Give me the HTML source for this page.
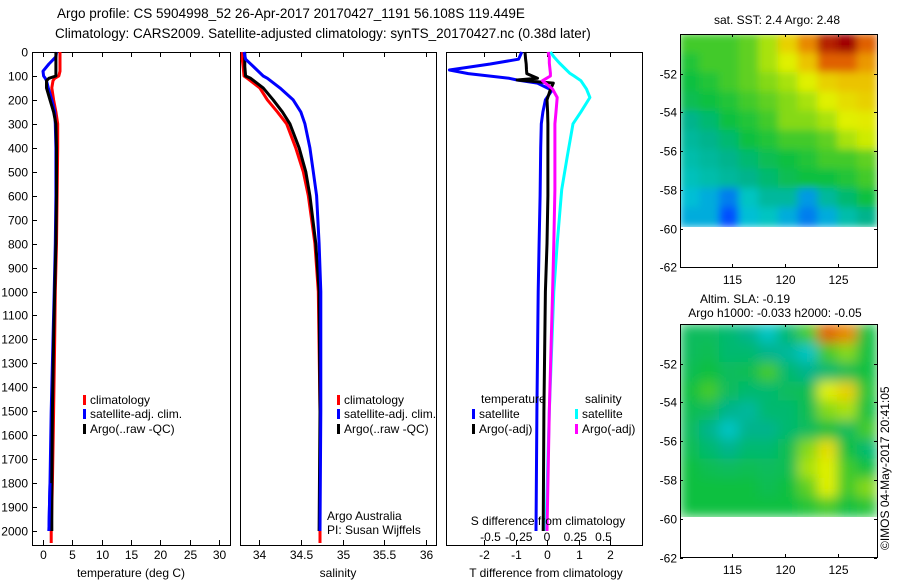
<!DOCTYPE html>
<html><head><meta charset="utf-8"><style>
body{margin:0;background:#fff}
svg{display:block;font-family:"Liberation Sans",sans-serif}
text{font-size:12px;fill:#000}
</style></head><body>
<svg id="c" width="900" height="580" viewBox="0 0 900 580">
<defs>
<filter id="blur1" x="0" y="0" width="1" height="1"><feGaussianBlur stdDeviation="4"/></filter>
<filter id="blur2" x="0" y="0" width="1" height="1"><feGaussianBlur stdDeviation="6"/></filter>
<clipPath id="cm1"><rect x="680" y="34" width="197" height="193"/></clipPath>
<clipPath id="cm2"><rect x="680" y="324" width="197" height="193"/></clipPath>
</defs>
<text x="57" y="18" style="font-size:13.5px">Argo profile: CS 5904998_52 26-Apr-2017 20170427_1191 56.108S 119.449E</text>
<text x="55" y="38" style="font-size:13.5px">Climatology: CARS2009. Satellite-adjusted climatology: synTS_20170427.nc (0.38d later)</text>
<g id="g"></g>
</svg>
<script>
// ---- data ----
const depthLevels = [0,100,200,300,400,500,600,700,800,900,1000,1100,1200,1300,1400,1500,1600,1700,1800,1900,2000];
const tDepths = [0,20,50,80,100,110,120,150,200,250,300,400,600,800,1000,1200,1500,1800,2000,2050];
const tempClim = [2.9,2.9,2.9,2.9,2.7,2.0,1.7,1.5,1.8,2.2,2.5,2.5,2.4,2.3,2.1,2.0,1.8,1.6,1.4,1.4];
const tempArgo = [2.2,2.2,2.2,2.2,2.2,1.0,0.6,0.6,1.2,1.8,2.2,2.3,2.3,2.2,2.0,1.8,1.6,1.5,1.5,null];
const tempSat  = [2.3,2.2,1.0,0.0,0.1,0.4,0.6,0.9,1.5,2.0,2.1,2.2,2.2,2.1,1.9,1.7,1.4,1.2,1.0,null];
const tempTicks = [0,5,10,15,20,25,30];
const sDepths = [0,30,60,100,110,150,200,250,300,400,500,600,800,1000,1500,2000,2050];
const salClim = [33.8,33.8,33.81,33.82,33.86,34.01,34.1,34.22,34.33,34.44,34.53,34.59,34.67,34.71,34.73,34.73,34.73];
const salArgo = [33.83,33.83,33.83,33.84,33.9,34.05,34.17,34.28,34.37,34.48,34.56,34.61,34.68,34.72,34.73,34.72,null];
const salSat  = [33.82,33.84,33.93,34.05,34.1,34.25,34.41,34.5,34.55,34.61,34.65,34.69,34.72,34.74,34.74,34.73,null];
const salTicks = [34,34.5,35,35.5,36];
const tdDepths = [0,30,50,75,90,110,117,130,160,200,250,300,400,600,800,1000,1500,2000];
const tdSat  = [-0.8,-0.9,-1.8,-3.1,-2.5,-1.2,-0.95,-0.3,0.16,-0.05,-0.13,-0.18,-0.2,-0.22,-0.25,-0.28,-0.32,-0.35];
const tdArgo = [-0.7,-0.68,-0.66,-0.65,-0.64,-0.3,-0.95,0.2,0.1,0.0,0.02,0.03,0.03,0.03,0.0,-0.05,-0.1,-0.12];
const sdDepths = [0,20,46,88,100,120,155,190,250,300,435,575,800,1000,1500,2000];
const sdSat  = [0.03,0.06,0.11,0.2,0.24,0.3,0.35,0.38,0.3,0.23,0.18,0.13,0.09,0.06,0.02,-0.01];
const sdArgo = [0.01,0.02,0.02,0.03,0.03,-0.04,0.05,0.09,0.08,0.07,0.07,0.07,0.06,0.05,0.02,0.0];
const tdTicks = [-2,-1,0,1,2];
const sdTicks = [-0.5,-0.25,0,0.25,0.5];
const latTicks = [-52,-54,-56,-58,-60,-62];
const lonTicks = [115,120,125];
const sstGrid = [
[0.55,0.55,0.55,0.58,0.62,0.7,0.8,0.95,1.0,0.85],
[0.52,0.55,0.55,0.58,0.62,0.65,0.72,0.85,0.85,0.78],
[0.5,0.52,0.55,0.58,0.6,0.62,0.65,0.7,0.72,0.72],
[0.48,0.5,0.52,0.55,0.58,0.6,0.62,0.65,0.68,0.7],
[0.42,0.45,0.5,0.52,0.55,0.6,0.6,0.62,0.65,0.66],
[0.4,0.42,0.45,0.5,0.52,0.55,0.55,0.58,0.62,0.64],
[0.38,0.4,0.42,0.45,0.48,0.5,0.52,0.55,0.55,0.58],
[0.36,0.38,0.4,0.42,0.45,0.48,0.5,0.5,0.52,0.55],
[0.32,0.3,0.25,0.35,0.4,0.4,0.28,0.4,0.45,0.5],
[0.3,0.3,0.2,0.32,0.35,0.3,0.25,0.3,0.38,0.42]];
const slaGrid = [
[0.47,0.47,0.45,0.42,0.35,0.45,0.55,0.85,0.8,0.5],
[0.47,0.48,0.45,0.45,0.42,0.4,0.35,0.55,0.6,0.5],
[0.48,0.5,0.47,0.48,0.55,0.45,0.42,0.45,0.48,0.5],
[0.5,0.55,0.47,0.45,0.45,0.47,0.48,0.65,0.7,0.52],
[0.48,0.47,0.42,0.4,0.45,0.45,0.48,0.6,0.62,0.5],
[0.47,0.42,0.35,0.42,0.42,0.45,0.47,0.5,0.47,0.55],
[0.48,0.45,0.42,0.45,0.45,0.48,0.6,0.68,0.5,0.45],
[0.5,0.48,0.47,0.48,0.47,0.48,0.62,0.65,0.55,0.5],
[0.5,0.5,0.5,0.5,0.48,0.5,0.58,0.65,0.55,0.6],
[0.5,0.5,0.5,0.5,0.5,0.5,0.52,0.55,0.5,0.52]];

// ---- helpers ----
const NS="http://www.w3.org/2000/svg";
const G=document.getElementById('g');
function mk(tag,attrs,parent){const e=document.createElementNS(NS,tag);for(const k in attrs)e.setAttribute(k,attrs[k]);(parent||G).appendChild(e);return e;}
function txt(x,y,s,anchor,size){const t=mk('text',{x:x,y:y,'text-anchor':anchor||'start'});if(size)t.style.fontSize=size+'px';t.textContent=s;return t;}
const yD = d => 52 + d*0.2395;
const PT=52, PB=545;
const xT = v => 43 + v*5.87;
const xS = v => 259 + (v-34)*83.5;
const xTD = v => 547 + v*31.5;
const xSD = v => 547 + v*113;

function panel(x0,x1,name){
  const r=mk('rect',{x:x0+0.5,y:PT+0.5,width:x1-x0,height:PB-PT,fill:'none',stroke:'#000','stroke-width':1});
  
  
}
function xticks(ticks,fx,ty,name){
  ticks.forEach(v=>{const x=Math.round(fx(v))+0.5;
    mk('line',{x1:x,x2:x,y1:PT,y2:PT+5,stroke:'#000'});
    mk('line',{x1:x,x2:x,y1:PB,y2:PB-5,stroke:'#000'});
    const t=txt(x,ty,String(v),'middle');
    
    
  });
}
function line(xs,ds,fx,color,name,w){
  let p='';xs.forEach((v,i)=>{if(v===null)return;p+=(p?'L':'M')+fx(v).toFixed(1)+','+yD(ds[i]).toFixed(1);});
  const e=mk('path',{d:p,fill:'none',stroke:color,'stroke-width':w||3,'stroke-linejoin':'round'});
  
  
}
function legend(x,y,color,label,name){
  mk('rect',{x:x,y:y-8,width:3,height:10,fill:color});
  const t=txt(x+7,y+1,label);
  
  
}

// ---- panel 1: temperature ----
panel(32,230,'temperature-panel');
depthLevels.forEach(d=>{const y=Math.round(yD(d))+0.5;
  mk('line',{x1:32,x2:37,y1:y,y2:y,stroke:'#000'});
  const t=txt(28,y+4,String(d),'end');
  
  
});
xticks(tempTicks,xT,559,'temperature-tick-label');
line(tempClim,tDepths,xT,'#f00','temp-climatology-line');
line(tempSat,tDepths,xT,'#00f','temp-satellite-line');
line(tempArgo,tDepths,xT,'#000','temp-argo-line');
line(tempSat.map((v,i)=>tDepths[i]>=1700?v:null),tDepths,xT,'#00f','temp-satellite-deep-line');
legend(83,403,'#f00','climatology','legend-climatology');
legend(83,417,'#00f','satellite-adj. clim.','legend-satellite');
legend(83,432,'#000','Argo(..raw -QC)','legend-argo');
txt(131,577,'temperature (deg C)','middle');

// ---- panel 2: salinity ----
panel(240,436,'salinity-panel');
xticks(salTicks,xS,559,'salinity-tick-label');
line(salClim,sDepths,xS,'#f00','sal-climatology-line');
line(salArgo,sDepths,xS,'#000','sal-argo-line');
line(salSat,sDepths,xS,'#00f','sal-satellite-line');
legend(337,403,'#f00','climatology','legend-sal-climatology');
legend(337,417,'#00f','satellite-adj. clim.','legend-sal-satellite');
legend(337,432,'#000','Argo(..raw -QC)','legend-sal-argo');
txt(327,520,'Argo Australia');
txt(327,534,'PI: Susan Wijffels');
txt(338,577,'salinity','middle');

// ---- panel 3: differences ----
panel(446,642,'difference-panel');
xticks(tdTicks,xTD,559,'tdiff-tick-label');
line(sdSat,sdDepths,xSD,'#0ff','sdiff-satellite-line');
line(tdSat,tdDepths,xTD,'#00f','tdiff-satellite-line');
line(tdArgo,tdDepths,xTD,'#000','tdiff-argo-line');
line(sdArgo,sdDepths,xSD,'#f0f','sdiff-argo-line');
txt(481,403,'temperature');
txt(585,403,'salinity');
legend(472,417,'#00f','satellite','legend-tdiff-satellite');
legend(472,432,'#000','Argo(-adj)','legend-tdiff-argo');
legend(575,417,'#0ff','satellite','legend-sdiff-satellite');
legend(575,432,'#f0f','Argo(-adj)','legend-sdiff-argo');
txt(548,525,'S difference from climatology','middle');
sdTicks.forEach(v=>{const t=txt(xSD(v),541,String(v),'middle');
  
  });
txt(546,577,'T difference from climatology','middle');

// ---- maps ----
const stops=[[0,[0,0,128]],[0.2,[0,80,255]],[0.33,[0,200,210]],[0.42,[0,180,140]],[0.5,[16,192,64]],[0.58,[96,208,32]],[0.65,[224,240,0]],[0.75,[240,176,0]],[0.85,[224,96,0]],[1,[160,0,0]]];
function cmap(v){for(let i=1;i<stops.length;i++){if(v<=stops[i][0]){const a=stops[i-1],b=stops[i];const f=(v-a[0])/(b[0]-a[0]);return 'rgb('+a[1].map((c,k)=>Math.round(c+(b[1][k]-c)*f)).join(',')+')';}}return 'rgb(160,0,0)';}
function map(top,grid,clip,filt,name){
  const L=680,R=877,B=top+233;
  const dataB=top+193;
  const g=mk('g',{'clip-path':'url(#'+clip+')'});
  
  
  const gi=mk('g',{filter:'url(#'+filt+')'},g);
  const nr=grid.length,nc=grid[0].length;
  const cw=(R-L)/nc,ch=(dataB-top)/nr;
  grid.forEach((row,r)=>row.forEach((v,c)=>{
    const cell=mk('rect',{x:(L+c*cw-0.5).toFixed(1),y:(top+r*ch-0.5).toFixed(1),width:(cw+1).toFixed(1),height:(ch+1).toFixed(1),fill:cmap(v)},gi);
    
    
  }));
  const fr=mk('rect',{x:L+0.5,y:top+0.5,width:R-L,height:B-top,fill:'none',stroke:'#000'});
  
  
  latTicks.forEach(v=>{const y=Math.round(top+(-50-v)*19.4+0.7)+0.5;
    mk('line',{x1:L,x2:L+3,y1:y,y2:y,stroke:'#000'});
    mk('line',{x1:R,x2:R-3,y1:y,y2:y,stroke:'#000'});
    const t=txt(L-3,y+4,String(v),'end');
    
    });
  lonTicks.forEach(v=>{const x=Math.round(680+(v-110.1)*10.6)+0.5;
    mk('line',{x1:x,x2:x,y1:top,y2:top+3,stroke:'#000'});
    mk('line',{x1:x,x2:x,y1:B,y2:B-3,stroke:'#000'});
    const t=txt(x,B+17,String(v),'middle');
    
    });
}
map(34,sstGrid,'cm1','blur1','sst-map');
txt(777,24,'sat. SST: 2.4  Argo: 2.48','middle');
map(324,slaGrid,'cm2','blur2','sla-map');
txt(745,303,'Altim. SLA: -0.19','middle');
txt(775,317,'Argo h1000: -0.033 h2000: -0.05','middle');
const st=txt(0,0,'©IMOS 04-May-2017 20:41:05','start');
st.setAttribute('transform','translate(889,550) rotate(-90)');


</script>
</body></html>
